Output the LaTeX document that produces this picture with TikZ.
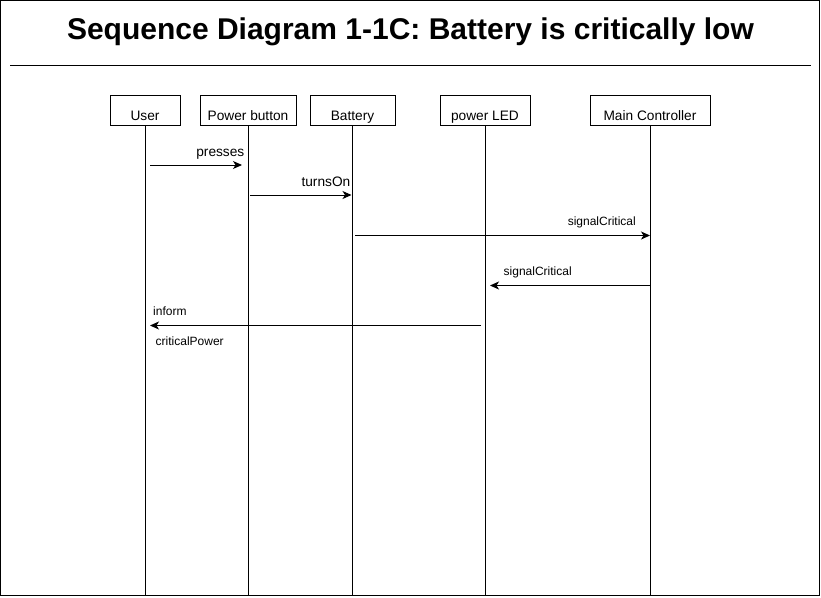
\documentclass[tikz,border=0pt]{standalone}
\usepackage{fontspec}
\setmainfont{Liberation Sans}
\usetikzlibrary{arrows.meta}
\tikzstyle{lifebox}=[draw, line width=1pt, minimum height=30pt, inner sep=0pt,
  text height=20pt, text depth=0pt, font=\fontsize{13.7}{16}\selectfont]
\tikzstyle{lifeline}=[line width=1pt]
\tikzstyle{msg}=[line width=1pt, -{Stealth[length=9pt,width=8pt,inset=2.5pt]}]
\tikzstyle{msglabel}=[inner sep=0pt, anchor=base east, font=\fontsize{13.7}{16}\selectfont]
\tikzstyle{smalllabel}=[inner sep=0pt, font=\fontsize{12}{14}\selectfont]

\begin{document}
\begin{tikzpicture}[x=1pt,y=-1pt]
        \useasboundingbox (0,0) rectangle (821,597);
        \draw[line width=1pt] (0.5,0.5) rectangle (819.5,595.5);

        \node[anchor=base, inner sep=0pt, font=\fontsize{30}{36}\bfseries] (title)
          at (410.5,39.5) {Sequence Diagram 1-1C: Battery is critically low};
        \coordinate (sepl) at (10,65);
        \coordinate (sepr) at (810.5,65);
        \draw[line width=1pt] (sepl) -- (sepr);

        % lifelines
        \node[lifebox, minimum width=70pt] (user) at (145,110) {User};
        \node[lifebox, minimum width=96pt] (pbutton) at (248,110) {Power button};
        \node[lifebox, minimum width=85pt] (battery) at (352.5,110) {Battery};
        \node[lifebox, minimum width=90pt] (led) at (485,110) {power LED};
        \node[lifebox, minimum width=120pt] (ctrl) at (650,110) {Main Controller};

        \coordinate (bottom) at (0,595.5);
        \foreach \n in {user,pbutton,battery,led,ctrl}
          \draw[lifeline] (\n.south) -- (\n.south |- bottom);

        % messages
        \draw[msg] ([xshift=5pt]user.south |- 0,165) -- ([xshift=-6pt]pbutton.south |- 0,165);
        \node[msglabel] (presses) at (244.5,156) {presses};

        \draw[msg] ([xshift=2pt]pbutton.south |- 0,195) -- ([xshift=-1pt]battery.south |- 0,195);
        \node[msglabel] (turnson) at (350.5,186) {turnsOn};

        \draw[msg] ([xshift=2.5pt]battery.south |- 0,235.5) -- (ctrl.south |- 0,235.5);
        \node[smalllabel, anchor=base east] (sigone) at (636,225) {signalCritical};

        \draw[msg] (ctrl.south |- 0,285.5) -- ([xshift=5pt]led.south |- 0,285.5);
        \node[smalllabel, anchor=base west] (sigtwo) at (503.5,275) {signalCritical};

        \draw[msg] ([xshift=-4pt]led.south |- 0,325.5) -- ([xshift=5pt]user.south |- 0,325.5);
        \node[smalllabel, anchor=base west] (inform) at (153,315) {inform};
        \node[smalllabel, anchor=base west] (critpower) at (155.5,345) {criticalPower};
\end{tikzpicture}
\end{document}
